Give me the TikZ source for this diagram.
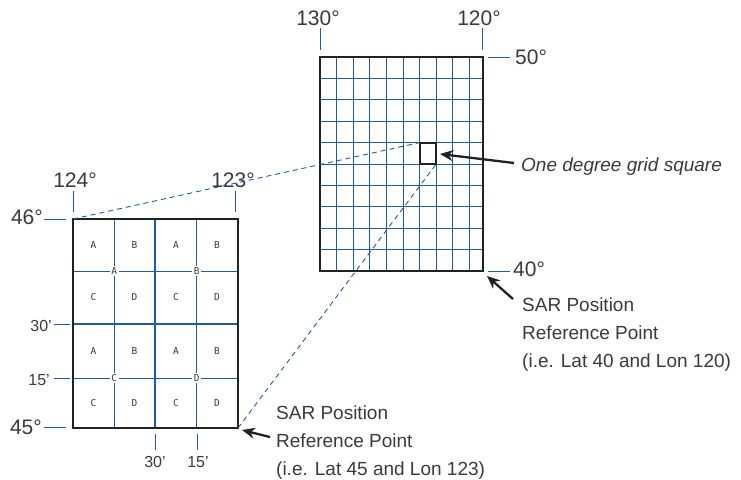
\documentclass[tikz,border=0pt]{standalone}
\usepackage{fontspec}
\setmainfont{Liberation Sans}
\newfontfamily\cellfont{DejaVu Sans Mono}
\usetikzlibrary{arrows.meta}
\definecolor{gblue}{HTML}{1F5AA6}
\definecolor{lbl}{HTML}{3A3A3A}
\definecolor{frame}{HTML}{222222}
\tikzset{
  thin grid/.style={draw=gblue,line width=1pt},
  thick grid/.style={draw=gblue,line width=1.8pt},
  border/.style={draw=frame,line width=2.2pt},
  tickline/.style={draw=gblue,line width=0.9pt},
  deg/.style={font=\fontsize{21}{21}\selectfont,text=lbl,inner sep=0pt},
  minlbl/.style={font=\fontsize{16}{16}\selectfont,text=lbl,inner sep=0pt},
  celllbl/.style={font=\cellfont\fontsize{9.5}{9.5}\selectfont,text=lbl,inner sep=0pt},
  midlbl/.style={font=\cellfont\fontsize{9.5}{9.5}\selectfont,text=lbl,fill=white,inner sep=1.4pt},
  note/.style={font=\fontsize{19}{28}\selectfont,text=lbl,align=left,inner sep=0pt},
  pointer/.style={draw=frame,line width=2.3pt,-{Stealth[length=13pt,width=11pt]}},
  link/.style={draw=gblue,line width=0.9pt,dash pattern=on 5pt off 4pt},
}
\begin{document}
\begin{tikzpicture}[x=1pt,y=-1pt]
\useasboundingbox (0,0) rectangle (741,479);
% ---------- big grid (10 x 10 degrees) ----------
\coordinate (BTL) at (320,57);
\coordinate (BBR) at (483,271);
\foreach \i in {1,...,9} {
  \draw[thin grid] ({320+\i*16.6},57) -- ({320+\i*16.6},271);
  \draw[thin grid] (320,{57+\i*21.4}) -- (483,{57+\i*21.4});
}
\draw[border] (BTL) rectangle (BBR);
% one degree square
\coordinate (STL) at (419.6,142.6);
\coordinate (SBR) at (436.2,164.0);
\draw[border] (STL) rectangle (SBR);
% big grid labels
\draw[tickline] (320,28) -- (320,50);
\draw[tickline] (482,28) -- (482,50);
\node[deg] (l130) at (318,18) {130°};
\node[deg] (l120) at (479,18) {120°};
\draw[tickline] (488,57) -- (510,57);
\draw[tickline] (488,271) -- (510,271);
\node[deg,anchor=west] (l50) at (515,57) {50°};
\node[deg,anchor=west] (l40) at (513,269) {40°};
% ---------- small grid (one degree) ----------
\coordinate (TL) at (73,219);
\coordinate (BR) at (238,428);
\draw[thin grid] (114.3,219) -- (114.3,428);
\draw[thin grid] (196.7,219) -- (196.7,428);
\draw[thin grid] (73,271) -- (238,271);
\draw[thin grid] (73,378) -- (238,378);
\draw[thick grid] (155,219) -- (155,428);
\draw[thick grid] (73,324) -- (238,324);
\draw[border] (TL) rectangle (BR);
% cell letters
\foreach \yy/\a/\b in {245/A/B,297.5/C/D,351/A/B,403/C/D} {
  \node[celllbl] at (93.5,\yy) {\a};
  \node[celllbl] at (134.5,\yy) {\b};
  \node[celllbl] at (176,\yy) {\a};
  \node[celllbl] at (217,\yy) {\b};
}
\node[midlbl] (qa) at (114.3,271) {A};
\node[midlbl] (qb) at (196.7,271) {B};
\node[midlbl] (qc) at (114.3,378) {C};
\node[midlbl] (qd) at (196.7,378) {D};
% small grid labels
\draw[tickline] (73,191) -- (73,212);
\draw[tickline] (235,191) -- (235,212);
\node[deg] (l124) at (75,180) {124°};
\node[deg] (l123) at (233,180) {123°};
\draw[tickline] (44,219) -- (66,219);
\draw[tickline] (44,427) -- (66,427);
\node[deg,anchor=east] (l46) at (43,217) {46°};
\node[deg,anchor=east] (l45) at (42,427) {45°};
\draw[tickline] (54,324) -- (70,324);
\draw[tickline] (54,378) -- (70,378);
\node[minlbl,anchor=east] (l30a) at (52,326) {30’};
\node[minlbl,anchor=east] (l15a) at (50,380) {15’};
\draw[tickline] (155,434) -- (155,450);
\draw[tickline] (197,434) -- (197,450);
\node[minlbl] (l30b) at (155,462) {30’};
\node[minlbl] (l15b) at (198,462) {15’};
% ---------- dashed links ----------
\draw[link] (TL) -- (STL);
\draw[link] (BR) -- (SBR);
% ---------- annotations ----------
\node[note,anchor=west,font=\fontsize{19}{23}\selectfont\itshape] (one) at (521,167) {One degree grid square};
\coordinate (oneTail) at (514,163);
\coordinate (oneTip) at (440,154);
\draw[pointer] (oneTail) -- (oneTip);
\node[note,anchor=north west] (sar1) at (522,298) {SAR Position\\Reference Point\\(i.e. Lat 40 and Lon 120)};
\coordinate (s1Tail) at (513,299);
\coordinate (s1Tip) at (487,276);
\draw[pointer] (s1Tail) -- (s1Tip);
\node[note,anchor=north west] (sar2) at (276,406) {SAR Position\\Reference Point\\(i.e. Lat 45 and Lon 123)};
\coordinate (s2Tail) at (270,437);
\coordinate (s2Tip) at (242,430);
\draw[pointer] (s2Tail) -- (s2Tip);
\end{tikzpicture}
\end{document}
